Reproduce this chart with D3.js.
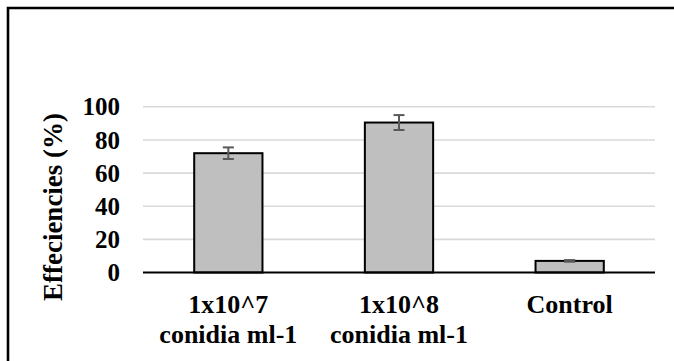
<!DOCTYPE html>
<html><head><meta charset="utf-8">
<script src="https://cdn.jsdelivr.net/npm/d3@7"></script>
<style>svg#c text{font-family:"Liberation Serif","Tinos","Times New Roman",Times !important;font-weight:700 !important}</style>
</head><body style="margin:0">
<svg id="c" width="674" height="361"></svg>
<script>
const categories = [["1x10^7","conidia ml-1"],["1x10^8","conidia ml-1"],["Control"]];
const values = [72, 90.5, 7];
const errors = [3.5, 4.5, 0.5];
const yTicks = [0, 20, 40, 60, 80, 100];
const yTitle = "Effeciencies (%)";

const svg = d3.select("#c");
const FF = "\"Liberation Serif\", Tinos, \"Times New Roman\", Times";
function txt(sel){
  return sel.style("font-family", FF, "important").style("font-weight", "700", "important").attr("font-family","Liberation Serif");
}
// outer frame (only left/top visible)
svg.append("path").attr("d","M8,400 L8,8 L700,8").attr("fill","none").attr("stroke","#000").attr("stroke-width",2.6);

const x0 = 143, x1 = 655, yB = 272.5, yT = 106.8;
const x = d3.scaleBand().domain(d3.range(values.length)).range([x0, x1]).padding(0);
const y = d3.scaleLinear().domain([0, 100]).range([yB, yT]);

// gridlines
svg.append("g").selectAll("line").data(yTicks.filter(d=>d>0)).join("line")
  .attr("x1",x0).attr("x2",x1).attr("y1",d=>y(d)).attr("y2",d=>y(d))
  .attr("stroke","#d9d9d9").attr("stroke-width",1.6);

// y tick labels
yTicks.forEach(d=>{
  txt(svg.append("text").attr("x",120).attr("y",y(d)+8.6).attr("text-anchor","end")
    .style("font-size","25px")).text(String(d));
});

// bars
const bw = x.bandwidth()/2.5;
svg.append("g").selectAll("rect").data(values).join("rect")
  .attr("x",(d,i)=>x(i)+x.bandwidth()/2-bw/2).attr("width",bw)
  .attr("y",d=>y(d)).attr("height",d=>yB-y(d))
  .attr("fill","#bfbfbf").attr("stroke","#000").attr("stroke-width",2);

// error bars
const eg = svg.append("g").attr("stroke","#595959").attr("stroke-width",2);
values.forEach((v,i)=>{
  const cx = x(i)+x.bandwidth()/2;
  eg.append("line").attr("x1",cx).attr("x2",cx).attr("y1",y(v+errors[i])).attr("y2",y(v-errors[i]));
  [v+errors[i], v-errors[i]].forEach(e=>{
    eg.append("line").attr("x1",cx-5.5).attr("x2",cx+5.5).attr("y1",y(e)).attr("y2",y(e));
  });
});

// axis line
svg.append("line").attr("x1",x0).attr("x2",x1).attr("y1",yB).attr("y2",yB)
  .attr("stroke","#000").attr("stroke-width",2);

// x labels
categories.forEach((lines,i)=>{
  lines.forEach((s,j)=>{
    txt(svg.append("text").attr("x",x(i)+x.bandwidth()/2).attr("y",313+j*30).attr("text-anchor","middle")
      .style("font-size","26px")).text(s);
  });
});

// y title
txt(svg.append("text").attr("transform","translate(62,207) rotate(-90)")
  .attr("text-anchor","middle").style("font-size","27px")).text(yTitle);
</script>
</body></html>
